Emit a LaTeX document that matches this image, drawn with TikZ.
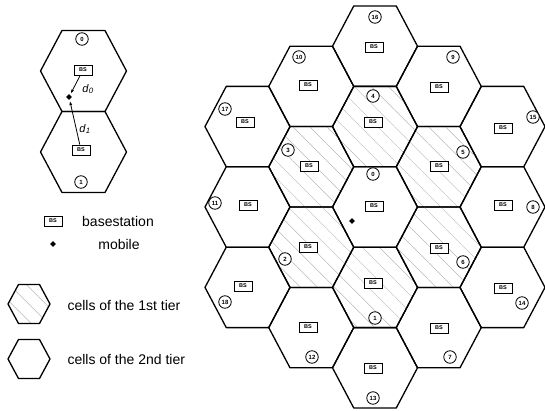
\documentclass[tikz,border=0pt]{standalone}
\usepackage{fontspec}
\setmainfont{Liberation Sans}
\usetikzlibrary{arrows.meta,patterns.meta,shapes.geometric}
% hexagon with flat top: centre x, centre y, half width, half height
\newcommand{\hexshape}[4]{(#1-#3,#2) -- (#1-#3/2,#2-#4) -- (#1+#3/2,#2-#4) -- (#1+#3,#2) -- (#1+#3/2,#2+#4) -- (#1-#3/2,#2+#4) -- cycle}
\tikzset{
  cell/.style={draw=black,line width=1.3pt,line join=round},
  tierone/.style={cell,pattern={Lines[angle=-45,distance=12pt,line width=.45pt]},pattern color=black!28},
  bs/.style={rectangle,draw,line width=.8pt,fill=white,minimum width=18pt,minimum height=10pt,inner sep=0pt,font=\fontsize{5.5}{6}\selectfont\bfseries},
  cellno/.style={circle,draw,line width=.8pt,fill=white,minimum size=12.5pt,inner sep=0pt,font=\fontsize{6}{6}\selectfont\bfseries},
  mobile/.style={diamond,fill=black,inner sep=0pt,minimum size=6pt},
  rangeline/.style={-{Latex[length=4pt,width=3pt]},line width=.8pt,shorten >=1.5pt},
  legend/.style={font=\fontsize{14}{16}\selectfont},
  dist/.style={font=\fontsize{11}{12}\selectfont},
}
\begin{document}
\begin{tikzpicture}[x=1pt,y=-1pt]
  \useasboundingbox (0,0) rectangle (545,411);
  % two neighbouring cells
  \draw[cell] \hexshape{83.5}{71}{43}{40.5};
  \draw[cell] \hexshape{83.5}{152}{43}{40.5};
  \node[cellno] (ida) at (82,39) {0};
  \node[bs] (bsa) at (83,70) {BS};
  \node[bs] (bsb) at (81,150) {BS};
  \node[cellno] (idb) at (81,182) {1};
  \node[mobile] (moba) at (69,97) {};
  \draw[rangeline] (bsa) -- (moba);
  \draw[rangeline] (bsb) -- (moba);
  \node[dist] (da) at (88,89) {\textit{d}\textsubscript{\textit{0}}};
  \node[dist] (db) at (85,129) {\textit{d}\textsubscript{\textit{1}}};
  % legend
  \node[bs] (bsleg) at (53,221) {BS};
  \node[legend] (lbs) at (118,221) {basestation};
  \node[mobile] (mobleg) at (53,244) {};
  \node[legend] (lmob) at (119,244) {mobile};
  \draw[tierone] \hexshape{29}{304}{21}{19.5};
  \node[legend,anchor=west] (lone) at (64,305) {cells of the 1st tier};
  \draw[cell] \hexshape{29}{359}{21}{19.5};
  \node[legend,anchor=west] (ltwo) at (64,359) {cells of the 2nd tier};
  % cluster: 2nd tier
  \draw[cell] \hexshape{375}{46.2}{42.5}{40.2};
  \draw[cell] \hexshape{375}{367.8}{42.5}{40.2};
  \draw[cell] \hexshape{311.25}{86.4}{42.5}{40.2};
  \draw[cell] \hexshape{311.25}{327.6}{42.5}{40.2};
  \draw[cell] \hexshape{438.75}{86.4}{42.5}{40.2};
  \draw[cell] \hexshape{438.75}{327.6}{42.5}{40.2};
  \draw[cell] \hexshape{247.5}{126.6}{42.5}{40.2};
  \draw[cell] \hexshape{247.5}{207}{42.5}{40.2};
  \draw[cell] \hexshape{247.5}{287.4}{42.5}{40.2};
  \draw[cell] \hexshape{502.5}{126.6}{42.5}{40.2};
  \draw[cell] \hexshape{502.5}{207}{42.5}{40.2};
  \draw[cell] \hexshape{502.5}{287.4}{42.5}{40.2};
  % cluster: 1st tier and centre
  \draw[tierone] \hexshape{375}{126.6}{42.5}{40.2};
  \draw[tierone] \hexshape{375}{287.4}{42.5}{40.2};
  \draw[tierone] \hexshape{311.25}{166.8}{42.5}{40.2};
  \draw[tierone] \hexshape{311.25}{247.2}{42.5}{40.2};
  \draw[tierone] \hexshape{438.75}{166.8}{42.5}{40.2};
  \draw[tierone] \hexshape{438.75}{247.2}{42.5}{40.2};
  \draw[cell] \hexshape{375}{207}{42.5}{40.2};
  % base stations
  \node[bs] (bs16) at (374,47) {BS};
  \node[bs] (bs4) at (373,122) {BS};
  \node[bs] (bs0) at (374,206) {BS};
  \node[bs] (bs1) at (373,283) {BS};
  \node[bs] (bs13) at (373,368) {BS};
  \node[bs] (bs10) at (308,85) {BS};
  \node[bs] (bs3) at (309,166) {BS};
  \node[bs] (bs2) at (308,247) {BS};
  \node[bs] (bs12) at (308,327) {BS};
  \node[bs] (bs9) at (439,87) {BS};
  \node[bs] (bs5) at (439,166) {BS};
  \node[bs] (bs6) at (439,248) {BS};
  \node[bs] (bs7) at (439,328) {BS};
  \node[bs] (bs17) at (245,122) {BS};
  \node[bs] (bs11) at (248,205) {BS};
  \node[bs] (bs18) at (243,286) {BS};
  \node[bs] (bs15) at (503,128) {BS};
  \node[bs] (bs8) at (503,205) {BS};
  \node[bs] (bs14) at (503,288) {BS};
  % cell numbers
  \node[cellno] (id16) at (375,17) {16};
  \node[cellno] (id4) at (373,96) {4};
  \node[cellno] (id0) at (373,174) {0};
  \node[cellno] (id1) at (375,318) {1};
  \node[cellno] (id13) at (373,398) {13};
  \node[cellno] (id10) at (299,57) {10};
  \node[cellno] (id3) at (288,150) {3};
  \node[cellno] (id2) at (285,259) {2};
  \node[cellno] (id12) at (312,357) {12};
  \node[cellno] (id9) at (453,57) {9};
  \node[cellno] (id5) at (463,152) {5};
  \node[cellno] (id6) at (463,262) {6};
  \node[cellno] (id7) at (450,357) {7};
  \node[cellno] (id17) at (225,109) {17};
  \node[cellno] (id11) at (215,203) {11};
  \node[cellno] (id18) at (225,302) {18};
  \node[cellno] (id15) at (533,117) {15};
  \node[cellno] (id8) at (533,207) {8};
  \node[cellno] (id14) at (522,303) {14};
  \node[mobile] (mob) at (352,221) {};
\end{tikzpicture}
\end{document}
